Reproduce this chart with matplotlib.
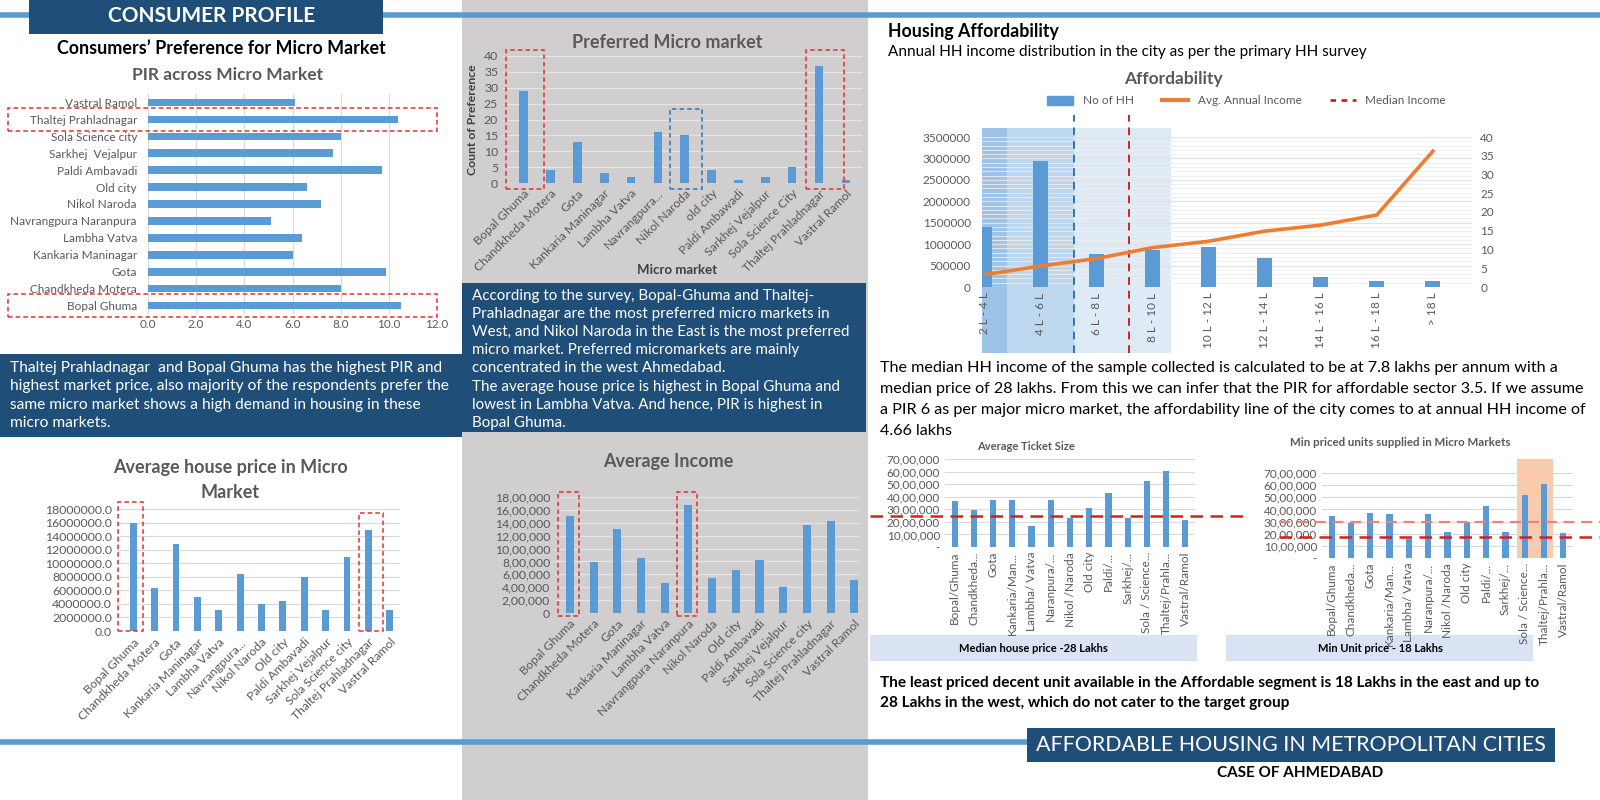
import matplotlib.pyplot as plt
from matplotlib.patches import Rectangle, Patch
from matplotlib.lines import Line2D
from matplotlib.ticker import FuncFormatter, MultipleLocator
import matplotlib.transforms as mtransforms
import numpy as np

plt.rcParams['font.family'] = ['Lato', 'DejaVu Sans']

W, H = 1600, 800
BAR = '#5b9bd5'
NAVY = '#1f4e79'
LINE_BLUE = '#5b9bd5'
GREY_TXT = '#595959'
GRID = '#d9d9d9'
PANEL = '#d0cece'
RED = '#e03131'

# ---- data ----
pir_markets = ['Bopal Ghuma', 'Chandkheda Motera', 'Gota', 'Kankaria Maninagar', 'Lambha Vatva',
               'Navrangpura Naranpura', 'Nikol Naroda', 'Old city', 'Paldi Ambavadi',
               'Sarkhej  Vejalpur', 'Sola Science city', 'Thaltej Prahladnagar', 'Vastral Ramol']
pir_values = [10.5, 8.0, 9.9, 6.0, 6.4, 5.1, 7.2, 6.6, 9.7, 7.7, 8.0, 10.4, 6.1]

pref_markets = ['Bopal Ghuma', 'Chandkheda Motera', 'Gota', 'Kankaria Maninagar', 'Lambha Vatva',
                'Navrangpura...', 'Nikol Naroda', 'old city', 'Paldi Ambawadi', 'Sarkhej Vejalpur',
                'Sola Science City', 'Thaltej Prahladnagar', 'Vastral Ramol']
pref_counts = [29, 4, 13, 3, 2, 16, 15, 4, 1, 2, 5, 37, 1]

price_markets = ['Bopal Ghuma', 'Chandkheda Motera', 'Gota', 'Kankaria Maninagar', 'Lambha Vatva',
                 'Navrangpura...', 'Nikol Naroda', 'Old city', 'Paldi Ambavadi', 'Sarkhej Vejalpur',
                 'Sola Science city', 'Thaltej Prahladnagar', 'Vastral Ramol']
price_values = [16000000, 6400000, 12900000, 5000000, 3050000, 8400000, 4000000, 4450000,
                8000000, 3050000, 10900000, 14900000, 3050000]

income_markets = ['Bopal Ghuma', 'Chandkheda Motera', 'Gota', 'Kankaria Maninagar', 'Lambha Vatva',
                  'Navrangpura Naranpura', 'Nikol Naroda', 'Old city', 'Paldi Ambavadi',
                  'Sarkhej Vejalpur', 'Sola Science city', 'Thaltej Prahladnagar', 'Vastral Ramol']
income_values = [1510000, 790000, 1300000, 850000, 470000, 1670000, 540000, 670000, 820000,
                 410000, 1360000, 1420000, 510000]

income_groups = ['2 L - 4 L', '4 L - 6 L', '6 L - 8 L', '8 L - 10 L', '10 L - 12 L', '12 L - 14 L',
                 '14 L - 16 L', '16 L - 18 L', '> 18 L']
hh_counts = [1390000, 2940000, 770000, 860000, 940000, 680000, 240000, 130000, 130000]
avg_income = [3.3, 5.6, 7.6, 10.5, 12.2, 14.9, 16.5, 19.2, 36.2]
afford_line_pos = 1.6      # affordability limit on category scale
median_income_pos = 2.57   # median income on category scale

ticket_labels = ['Bopal/Ghuma', 'Chandkheda...', 'Gota', 'Kankaria/Man...', 'Lambha/ Vatva',
                 'Naranpura/...', 'Nikol /Naroda', 'Old city', 'Paldi/...', 'Sarkhej/...',
                 'Sola / Science...', 'Thaltej/Prahla...', 'Vastral/Ramol']
ticket_values = [3620000, 2960000, 3700000, 3700000, 1700000, 3700000, 2270000, 3090000,
                 4280000, 2270000, 5280000, 6050000, 2110000]
median_price = 2500000

min_values = [3500000, 2890000, 3700000, 3590000, 1540000, 3590000, 2180000, 3000000,
              4310000, 2180000, 5210000, 6080000, 2020000]
min_lines = [3000000, 1700000]

fig = plt.figure(figsize=(16, 8), dpi=100)


def px_axes(x0, y0, x1, y1):
    return fig.add_axes([x0 / W, 1 - y1 / H, (x1 - x0) / W, (y1 - y0) / H])


def px_rect(x0, y0, x1, y1, color, z=-5):
    fig.patches.append(Rectangle((x0 / W, 1 - y1 / H), (x1 - x0) / W, (y1 - y0) / H,
                                 transform=fig.transFigure, facecolor=color,
                                 edgecolor='none', zorder=z))


def px_text(x, y, s, **kw):
    kw.setdefault('va', 'center')
    fig.text(x / W, 1 - y / H, s, **kw)


def px_hline(x0, x1, y, color, lw):
    fig.add_artist(Line2D([x0 / W, x1 / W], [1 - y / H, 1 - y / H], transform=fig.transFigure,
                          color=color, lw=lw, zorder=-4))


def indian(v, pos=None):
    v = int(round(v))
    if v == 0:
        return '0'
    s = str(v)
    last3, rest = s[-3:], s[:-3]
    parts = []
    while len(rest) > 2:
        parts.insert(0, rest[-2:])
        rest = rest[:-2]
    if rest:
        parts.insert(0, rest)
    return ','.join(parts + [last3])


def indian_dash(v, pos=None):
    return '-' if v == 0 else indian(v)


def style(ax, axis='y', grid=GRID, size=8):
    for s in ax.spines.values():
        s.set_visible(False)
    ax.tick_params(length=0, colors=GREY_TXT, labelsize=size)
    ax.grid(axis=axis, color=grid, lw=0.8)
    ax.set_axisbelow(True)
    ax.set_facecolor('none')


def hl_box(ax, x0, x1, y0, y1, color):
    ax.add_patch(Rectangle((x0, y0), x1 - x0, y1 - y0, fill=False, ec=color,
                           ls=(0, (3, 2)), lw=1.1, clip_on=False, zorder=6))


# ---- backgrounds and banners ----
px_rect(462, 0, 868, 800, PANEL, z=-6)
px_hline(0, 1600, 15, LINE_BLUE, 4)
px_rect(29, 0, 383, 34, NAVY, z=-3)
px_text(212, 16, 'CONSUMER PROFILE', color='white', fontsize=15, fontweight='bold', ha='center')
px_text(221, 48, 'Consumers\u2019 Preference for Micro Market', fontsize=12.9,
        fontweight='bold', ha='center')

# ---- PIR chart ----
px_text(228, 75, 'PIR across Micro Market', fontsize=12.5, fontweight='bold', color=GREY_TXT, ha='center')
ax = px_axes(148, 94, 437, 314)
y = np.arange(len(pir_markets))
ax.barh(y, pir_values, height=0.45, color=BAR)
ax.set_xlim(0, 12)
ax.set_ylim(-0.5, len(pir_markets) - 0.5)
ax.set_yticks(y, pir_markets)
ax.set_xticks(np.arange(0, 12.1, 2))
ax.xaxis.set_major_formatter(FuncFormatter(lambda v, p: f'{v:.1f}'))
style(ax, 'x', size=8.5)
ax.tick_params(axis='y', pad=8)
tr = mtransforms.blended_transform_factory(ax.transAxes, ax.transData)
for idx in (11, 0):
    ax.add_patch(Rectangle((-0.485, idx - 0.68), 1.485, 1.36, transform=tr, fill=False, ec=RED,
                           ls=(0, (3, 2)), lw=1.1, clip_on=False, zorder=6))

# ---- text box 1 ----
px_rect(0, 354, 462, 437, NAVY, z=-3)
box1 = ['Thaltej Prahladnagar  and Bopal Ghuma has the highest PIR and',
        'highest market price, also majority of the respondents prefer the',
        'same micro market shows a high demand in housing in these',
        'micro markets.']
for i, line in enumerate(box1):
    px_text(10, 368 + i * 18.3, line, color='white', fontsize=11.2)

# ---- average house price ----
px_text(230, 468, 'Average house price in Micro', fontsize=13, fontweight='bold', color=GREY_TXT, ha='center')
px_text(230, 492, 'Market', fontsize=13, fontweight='bold', color=GREY_TXT, ha='center')
ax = px_axes(117, 509, 400, 631)
x = np.arange(len(price_markets))
ax.bar(x, price_values, width=0.32, color=BAR)
ax.set_xlim(-0.76, 12.48)
ax.set_ylim(0, 18000000)
ax.yaxis.set_major_locator(MultipleLocator(2000000))
ax.yaxis.set_major_formatter(FuncFormatter(lambda v, p: f'{v:.1f}'))
ax.set_xticks(x, price_markets, rotation=45, ha='right', rotation_mode='anchor')
style(ax, size=8.8)
ax.tick_params(axis='x', pad=4)
hl_box(ax, -0.7, 0.47, 0, 19000000, RED)
hl_box(ax, 10.56, 11.68, 0, 17400000, RED)

# ---- preferred micro market ----
px_text(667, 43, 'Preferred Micro market', fontsize=13, fontweight='bold', color=GREY_TXT, ha='center')
ax = px_axes(503, 56, 862, 183)
x = np.arange(len(pref_markets))
ax.bar(x, pref_counts, width=0.32, color=BAR)
ax.set_xlim(-0.77, 12.6)
ax.set_ylim(0, 40)
ax.yaxis.set_major_locator(MultipleLocator(5))
ax.set_xticks(x, pref_markets, rotation=45, ha='right', rotation_mode='anchor')
style(ax, grid='#e6e6e6', size=8.8)
ax.set_ylabel('Count of Preference', fontsize=8.8, fontweight='bold', color='#404040', labelpad=4)
ax.set_xlabel('Micro market', fontsize=9.5, fontweight='bold', color='#404040')
ax.xaxis.set_label_coords(0.485, -0.64)
hl_box(ax, -0.67, 0.77, -1.8, 41.9, RED)
hl_box(ax, 10.5, 11.92, -1.8, 41.9, RED)
hl_box(ax, 5.45, 6.65, -1.8, 23.3, '#2e75b6')

# ---- text box 2 ----
px_rect(462, 283, 866, 432, NAVY, z=-3)
box2 = ['According to the survey, Bopal-Ghuma and Thaltej-',
        'Prahladnagar are the most preferred micro markets in',
        'West, and Nikol Naroda in the East is the most preferred',
        'micro market. Preferred micromarkets are mainly',
        'concentrated in the west Ahmedabad.',
        'The average house price is highest in Bopal Ghuma and',
        'lowest in Lambha Vatva. And hence, PIR is highest in',
        'Bopal Ghuma.']
for i, line in enumerate(box2):
    px_text(472, 296 + i * 18.1, line, color='white', fontsize=10.9)

# ---- average income ----
px_text(668, 461, 'Average Income', fontsize=13, fontweight='bold', color=GREY_TXT, ha='center')
ax = px_axes(555, 497, 860, 613)
x = np.arange(len(income_markets))
ax.bar(x, income_values, width=0.34, color=BAR)
ax.set_xlim(-0.63, 12.24)
ax.set_ylim(0, 1800000)
ax.yaxis.set_major_locator(MultipleLocator(200000))
ax.yaxis.set_major_formatter(FuncFormatter(indian))
ax.set_xticks(x, income_markets, rotation=45, ha='right', rotation_mode='anchor')
style(ax, grid='#e6e6e6', size=8.8)
hl_box(ax, -0.52, 0.39, -50000, 1880000, RED)
hl_box(ax, 4.5, 5.37, -50000, 1880000, RED)

# ---- housing affordability ----
px_text(888, 31, 'Housing Affordability', fontsize=12.8, fontweight='bold')
px_text(888, 52, 'Annual HH income distribution in the city as per the primary HH survey', fontsize=11)
px_text(1173, 79, 'Affordability', fontsize=12.5, fontweight='bold', color=GREY_TXT, ha='center')

ax = px_axes(982, 137, 1472, 287)
x = np.arange(len(income_groups))
ax.bar(x, hh_counts, width=0.27, color=BAR, zorder=2)
ax.set_xlim(-0.05, 8.7)
ax.set_ylim(0, 3500000)
ax.yaxis.set_major_locator(MultipleLocator(500000))
ax.yaxis.set_minor_locator(MultipleLocator(100000))
ax.yaxis.set_major_formatter(FuncFormatter(lambda v, p: f'{int(round(v))}'))
ax.set_xticks(x, income_groups, rotation=90)
style(ax, size=8.5)
ax.tick_params(which='minor', length=0)
ax.tick_params(axis='y', pad=8)
ax.grid(axis='y', which='minor', color='#eeeeee', lw=0.6)
ax.grid(axis='y', which='major', color='#e2e2e2', lw=0.9)
ax.tick_params(axis='x', pad=4)
for (a, b), c in zip([(-0.05, 0.4), (0.4, afford_line_pos), (afford_line_pos, 3.32)],
                     ['#9dc3e6', '#bdd7ee', '#deebf7']):
    ax.axvspan(a, b, ymin=-0.44, ymax=1.06, color=c, lw=0, clip_on=False, zorder=0.1)
ax.axvline(afford_line_pos, ymin=-0.44, ymax=1.15, color='#2e75b6', ls=(0, (4, 3)), lw=1.4,
           clip_on=False, zorder=5)
ax.axvline(median_income_pos, ymin=-0.44, ymax=1.15, color='#d62020', ls=(0, (4, 3)), lw=1.4,
           clip_on=False, zorder=5)
ax2 = ax.twinx()
ax2.plot(x, avg_income, color='#ed7d31', lw=2.6, zorder=4)
ax2.set_ylim(0, 40)
ax2.yaxis.set_major_locator(MultipleLocator(5))
for s in ax2.spines.values():
    s.set_visible(False)
ax2.tick_params(length=0, colors=GREY_TXT, labelsize=8.5, pad=6)
handles = [Patch(color=BAR, label='No of HH'),
           Line2D([], [], color='#ed7d31', lw=3, label='Avg. Annual Income'),
           Line2D([], [], color='#d62020', lw=2, ls=(0, (2, 2)), label='Median Income')]
ax.legend(handles=handles, loc='center', bbox_to_anchor=(0.54, 1.24), ncol=3, frameon=False,
          fontsize=8.5, labelcolor=GREY_TXT, handlelength=2.2, columnspacing=2.4)

aff_text = ['The median HH income of the sample collected is calculated to be at 7.8 lakhs per annum with a',
            'median price of 28 lakhs. From this we can infer that the PIR for affordable sector 3.5. If we assume',
            'a PIR 6 as per major micro market, the affordability line of the city comes to at annual HH income of',
            '4.66 lakhs']
for i, line in enumerate(aff_text):
    px_text(880, 368 + i * 21, line, fontsize=11.6)

# ---- average ticket size ----
px_text(1026, 446, 'Average Ticket Size', fontsize=8, fontweight='bold', color=GREY_TXT, ha='center')
ax = px_axes(945, 459, 1195, 547)
x = np.arange(len(ticket_labels))
ax.bar(x, ticket_values, width=0.32, color=BAR)
ax.set_xlim(-0.5, 12.5)
ax.set_ylim(0, 7000000)
ax.set_yticks(np.arange(0, 7000001, 1000000))
ax.yaxis.set_major_formatter(FuncFormatter(indian_dash))
ax.set_xticks(x, ticket_labels, rotation=90)
style(ax, size=8.5)
ax.axhline(median_price, xmin=-0.3, xmax=1.22, color='#d62020', ls=(0, (5, 3)), lw=1.8,
           clip_on=False, zorder=5)

# ---- min priced units ----
px_text(1400, 442, 'Min priced units supplied in Micro Markets', fontsize=8.3, fontweight='bold',
        color=GREY_TXT, ha='center')
ax = px_axes(1322, 473, 1573, 558)
x = np.arange(len(ticket_labels))
ax.axvspan(9.62, 11.45, ymin=0, ymax=1.17, color='#f8cbad', lw=0, clip_on=False, zorder=0.1)
ax.bar(x, min_values, width=0.32, color=BAR, zorder=2)
ax.set_xlim(-0.5, 12.5)
ax.set_ylim(0, 7000000)
ax.set_yticks(np.arange(0, 7000001, 1000000))
ax.yaxis.set_major_formatter(FuncFormatter(indian_dash))
ax.set_xticks(x, ticket_labels, rotation=90)
style(ax, size=8.5)
ax.axhline(min_lines[0], xmin=-0.17, xmax=1.11, color='#f08080', ls=(0, (5, 3)), lw=1.6,
           clip_on=False, zorder=5)
ax.axhline(min_lines[1], xmin=-0.17, xmax=1.11, color='#d62020', ls=(0, (5, 3)), lw=1.8,
           clip_on=False, zorder=5)

px_rect(870, 635, 1197, 661, '#dae3f3', z=-3)
px_text(1033, 648, 'Median house price -28 Lakhs', fontsize=8, fontweight='bold', ha='center')
px_rect(1226, 635, 1533, 661, '#dae3f3', z=-3)
px_text(1380, 648, 'Min Unit price - 18 Lakhs', fontsize=8, fontweight='bold', ha='center')

px_text(880, 683, 'The least priced decent unit available in the Affordable segment is 18 Lakhs in the east and up to',
        fontsize=11.1, fontweight='bold')
px_text(880, 703, '28 Lakhs in the west, which do not cater to the target group', fontsize=11.1, fontweight='bold')

# ---- bottom banner ----
px_hline(0, 1030, 742, LINE_BLUE, 4)
px_rect(1027, 728, 1555, 762, NAVY, z=-3)
px_text(1291, 745, 'AFFORDABLE HOUSING IN METROPOLITAN CITIES', color='white', fontsize=15.4, ha='center')
px_text(1300, 773, 'CASE OF AHMEDABAD', fontsize=11, fontweight='bold', ha='center')

fig.savefig('out.png', dpi=100)
